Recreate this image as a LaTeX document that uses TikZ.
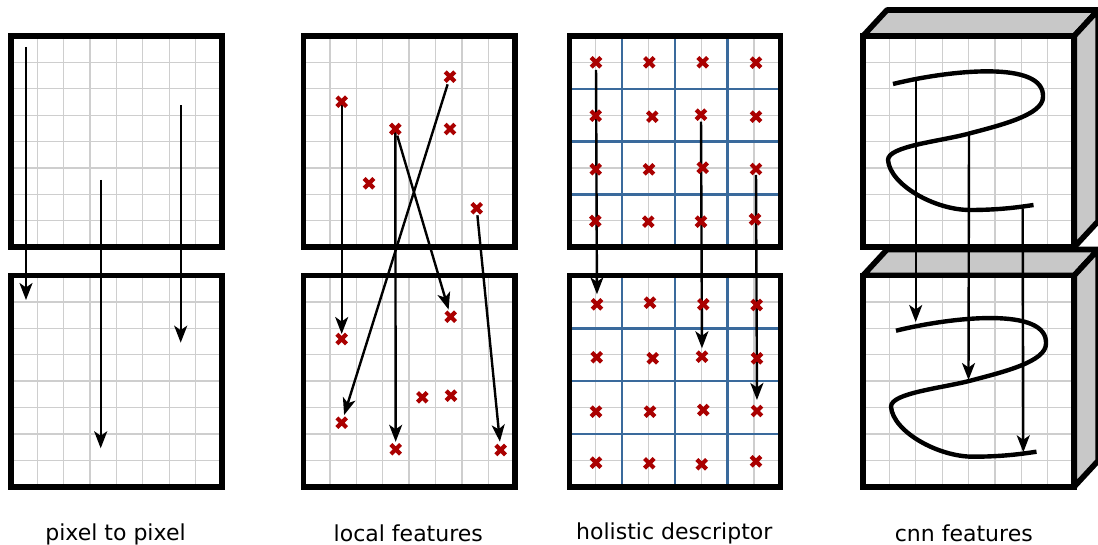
\documentclass[tikz,border=0pt]{standalone}
\usepackage{fontspec}
\setmainfont{DejaVu Sans}
\usetikzlibrary{arrows.meta}
\definecolor{gridgray}{RGB}{206,206,206}
\definecolor{cellblue}{RGB}{58,106,156}
\definecolor{xred}{RGB}{170,0,0}
\definecolor{facegray}{RGB}{200,200,200}
\pgfdeclarelayer{base}
\pgfdeclarelayer{arrows}
\pgfsetlayers{base,arrows,main}
\tikzset{
  gridline/.style={draw=gridgray,line width=1.3pt},
  cellline/.style={draw=cellblue,line width=2.5pt},
  frame/.style={draw=black,line width=5.6pt},
  face/.style={fill=facegray,draw=black,line width=5.6pt,line join=round},
  mk/.style={shape=rectangle,minimum size=10pt,inner sep=0pt},
  xline/.style={draw=xred,line width=4.2pt},
  arr/.style={draw=black,line width=2.4pt,-{Stealth[length=17pt,width=13pt,inset=4.5pt]}},
  curve/.style={draw=black,line width=4.4pt},
  lab/.style={anchor=base,font=\fontsize{22}{26}\selectfont},
  gridbox/.pic={
    \fill[white] (0,0) rectangle (211.2,211.2);
    \foreach \i in {1,...,7}{
      \draw[gridline] (\i*26.4,0) -- (\i*26.4,211.2);
      \draw[gridline] (0,\i*26.4) -- (211.2,\i*26.4);
    }
    \draw[frame] (0,0) rectangle (211.2,211.2);
  },
  cellbox/.pic={
    \fill[white] (0,0) rectangle (211.2,211.2);
    \foreach \i in {1,...,7}{
      \draw[gridline] (\i*26.4,0) -- (\i*26.4,211.2);
      \draw[gridline] (0,\i*26.4) -- (211.2,\i*26.4);
    }
    \foreach \i in {2,4,6}{
      \draw[cellline] (\i*26.4,0) -- (\i*26.4,211.2);
      \draw[cellline] (0,\i*26.4) -- (211.2,\i*26.4);
    }
    \draw[frame] (0,0) rectangle (211.2,211.2);
  },
  cubebox/.pic={
    \filldraw[face] (0,0) -- (24,-26) -- (235.2,-26) -- (211.2,0) -- cycle;
    \filldraw[face] (211.2,0) -- (235.2,-26) -- (235.2,185.2) -- (211.2,211.2) -- cycle;
    \pic {gridbox};
  },
  scurve/.pic={
    \draw[curve] (893,84) .. controls (950,70) and (1045,60) .. (1043,97)
      .. controls (1043,115) and (1000,125.3) .. (970,133.3)
      .. controls (940,141.5) and (888,146) .. (888,160)
      .. controls (890,185) and (935,210) .. (970,210)
      .. controls (1000,210) and (1020,207) .. (1033.5,205);
  }
}
% a feature point: a named anchor node with a heavy red cross drawn over it
\newcommand\featpt[3]{%
  \node[mk] (#1) at (#2,#3) {};
  \draw[xline] (#2-4.8,#3-4.8) -- (#2+4.8,#3+4.8) (#2-4.8,#3+4.8) -- (#2+4.8,#3-4.8);
}
\begin{document}
\begin{tikzpicture}[x=1pt,y=-1pt]
\useasboundingbox (0,0) rectangle (1098,545);

% panels and grids
\begin{pgfonlayer}{base}
  \pic (p1t) at (10.8,36) {gridbox};
  \pic (p1b) at (10.8,275.5) {gridbox};
  \pic (p2t) at (303.5,36) {gridbox};
  \pic (p2b) at (303.5,275.5) {gridbox};
  \pic (p3t) at (569.3,36) {cellbox};
  \pic (p3b) at (569.3,275.5) {cellbox};
  \pic (p4b) at (863,275.5) {cubebox};
  \pic (p4t) at (863,36) {cubebox};
\end{pgfonlayer}

% pixel to pixel
\coordinate (pa1) at (26,47);
\coordinate (pb1) at (26,300);
\coordinate (pa2) at (100.7,180);
\coordinate (pb2) at (100.7,448.3);
\coordinate (pa3) at (180.7,105.3);
\coordinate (pb3) at (180.7,342.7);

% local features
\foreach \n/\x/\y in {l1/341.7/101.7, l2/450/76.7, l3/395.3/129, l4/450/129,
                      l5/369/183.3, l6/476.7/208.3,
                      m1/450.7/316.7, m2/341.7/339, m3/422.3/397.3, m4/451/395.7,
                      m5/341.7/422.7, m6/395.7/449.3, m7/500.7/450}
  {\featpt{\n}{\x}{\y}}

% holistic descriptor
\foreach \n/\x/\y in {h11/596/62.3, h12/649.3/62.3, h13/702.7/62.3, h14/756/62.7,
                      h21/595.7/115.7, h22/652.3/116.7, h23/701/114.7, h24/756/116.7,
                      h31/595.7/169.3, h32/649/169.3, h33/702.7/167.7, h34/756/169,
                      h41/595.3/221, h42/648.3/221.7, h43/701/221.7, h44/755/219.3,
                      k11/597/304.3, k12/650/302.7, k13/703.3/304.3, k14/756.7/305,
                      k21/596.7/357.3, k22/652.7/358.3, k23/702/356.7, k24/757/358.3,
                      k31/596/411.7, k32/650/411.7, k33/703.3/410, k34/757/411,
                      k41/596/462.7, k42/649.3/463.3, k43/701.7/464.3, k44/756/461.3}
  {\featpt{\n}{\x}{\y}}

% cnn features
\pic (c1) {scurve};
\pic[shift={(3,246.7)}] (c2) {scurve};
\coordinate (ca1) at (915.7,79);
\coordinate (cb1) at (915.7,322);
\coordinate (ca2) at (969,135);
\coordinate (cb2) at (968.5,380);
\coordinate (ca3) at (1022.7,208.3);
\coordinate (cb3) at (1023.3,452.3);

\begin{pgfonlayer}{arrows}
  \draw[arr] (pa1) -- (pb1);
  \draw[arr] (pa2) -- (pb2);
  \draw[arr] (pa3) -- (pb3);

  \draw[arr,shorten >=5pt] (l1.center) -- (m2.center);
  \draw[arr,shorten <=8pt,shorten >=8pt] (l2.center) -- (m5.center);
  \draw[arr,shorten >=7.5pt] (l3.center) -- (m6.center);
  \draw[arr,shorten <=7pt,shorten >=7.4pt] (l3.center) -- (m1.center);
  \draw[arr,shorten <=7pt,shorten >=8.3pt] (l6.center) -- (m7.center);

  \draw[arr,shorten <=7.7pt,shorten >=10pt] (h11.center) -- (k11.center);
  \draw[arr,shorten <=7pt,shorten >=8.4pt] (h23.center) -- (k23.center);
  \draw[arr,shorten <=6pt,shorten >=11pt] (h34.center) -- (k34.center);

  \draw[arr] (ca1) -- (cb1);
  \draw[arr] (ca2) -- (cb2);
  \draw[arr] (ca3) -- (cb3);
\end{pgfonlayer}

% captions
\node[lab] (t1) at (115.5,540) {pixel to pixel};
\node[lab] (t2) at (408.3,541) {local features};
\node[lab] (t3) at (674.3,539.3) {holistic descriptor};
\node[lab] (t4) at (963.8,541) {cnn features};
\end{tikzpicture}
\end{document}
